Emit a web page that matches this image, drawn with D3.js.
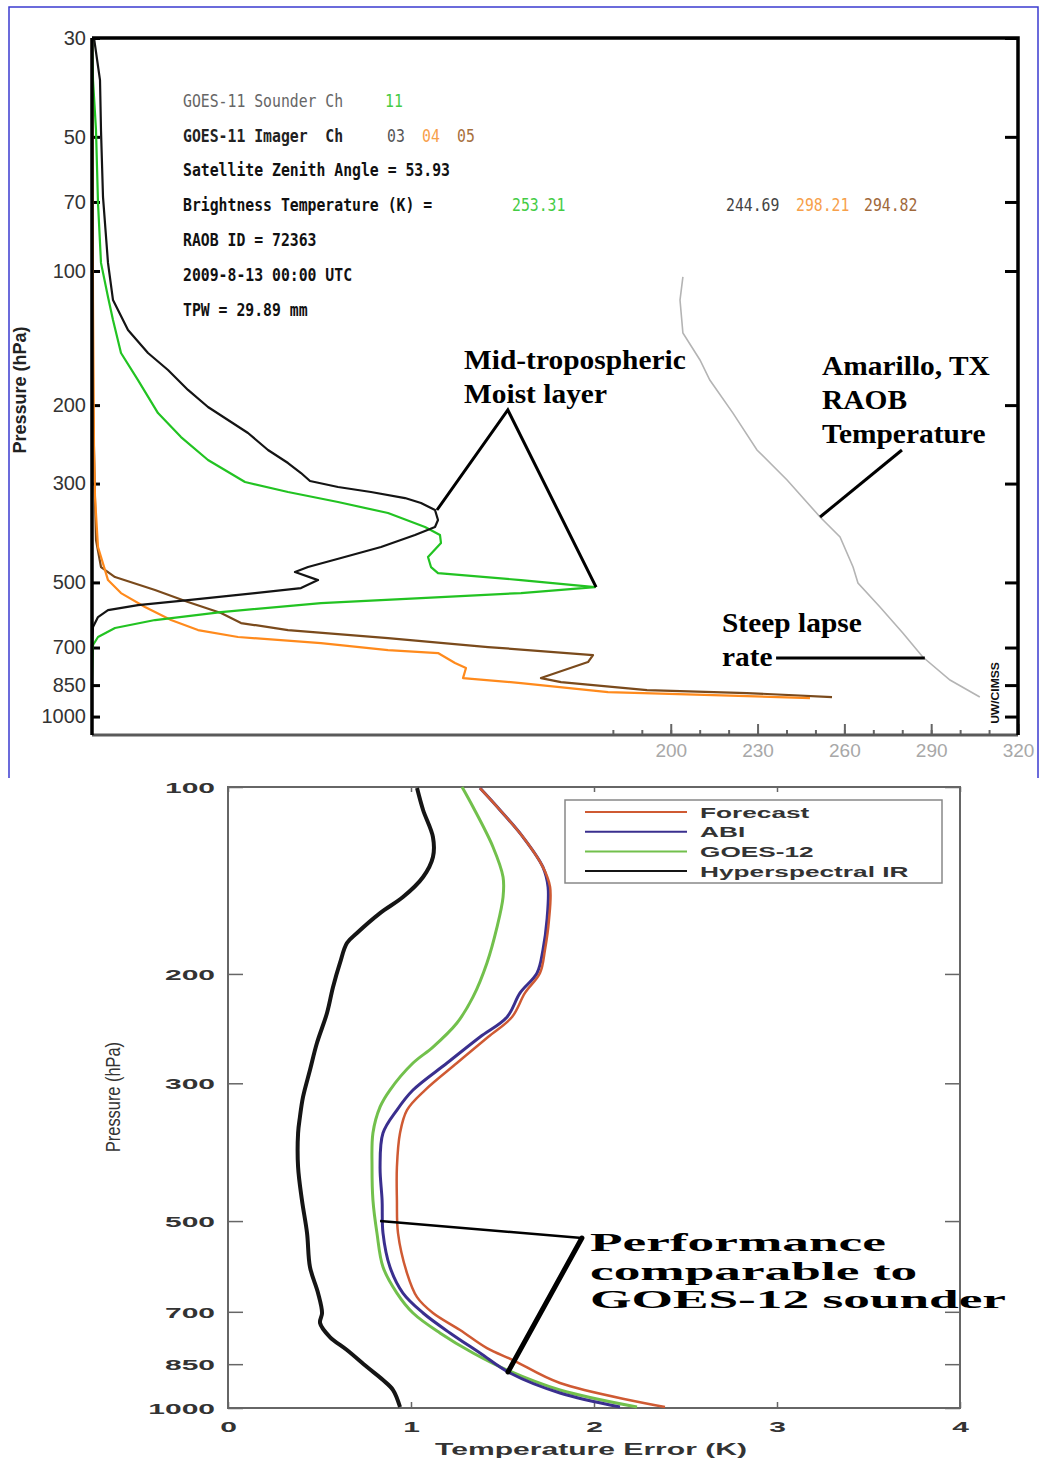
<!DOCTYPE html>
<html lang="en">
<head>
<meta charset="utf-8">
<title>GOES-11 weighting functions and temperature error profiles</title>
<script src="https://cdn.jsdelivr.net/npm/d3@7"></script>
<style>
  body { margin: 0; background: #fff; }
  svg { display: block; }
  text { white-space: pre; }
</style>
</head>
<body>
<script>
// ---------- data: top panel (weighting functions, pressure hPa / normalized weight) ----------
var topPressureTicks = [30, 50, 70, 100, 200, 300, 500, 700, 850, 1000];
var topTempTicks = [180, 190, 200, 210, 220, 230, 240, 250, 260, 270, 280, 290, 300, 310, 320];
var topTempLabels = [200, 230, 260, 290, 320];

var sounderCh11 = [[30,0],[37.3,.002],[48.3,.008],[70.4,.012],[95.9,.018],[114.4,.032],[128.8,.042],[152.8,.058],
  [175.7,.092],[208.4,.132],[235.9,.178],[265.6,.232],[297.6,.306],[313.4,.392],[330,.492],[349.3,.592],
  [375.5,.666],[391.4,.696],[407.9,.698],[438.5,.672],[461.8,.678],[476.4,.692],[494,.858],[512.2,1.006],
  [528.3,.858],[542,.658],[556.3,.458],[582.8,.258],[607.3,.126],[632.9,.046],[663,.012],[691,.002],[828,0]];

var imagerCh03 = [[30,.004],[37.3,.016],[48.3,.018],[68.2,.022],[95.9,.032],[116.2,.042],[135.6,.072],[152.8,.112],
  [166.8,.152],[184.9,.192],[202,.232],[216,.272],[231,.312],[252.2,.352],[269.8,.392],[284.1,.418],[296,.436],
  [305.4,.492],[313.4,.558],[323.3,.626],[331.7,.658],[343.9,.686],[362.2,.692],[375.5,.686],[391.4,.646],
  [416.4,.578],[440.8,.498],[461.8,.432],[473.9,.406],[494,.452],[514.8,.418],[528.3,.326],[547.7,.192],
  [562.1,.092],[576.8,.032],[598,.012],[629.7,.002],[691,0],[1000,0]];

var imagerCh04 = [[30,0],[116,.002],[252,.004],[321.6,.006],[416.4,.012],[469.1,.026],[494,.032],[528.3,.058],
  [567.9,.106],[607.3,.158],[639.5,.212],[663,.292],[683.9,.458],[709.1,.592],[720.2,.692],[758.4,.726],
  [778.3,.748],[819.6,.742],[841,.858],[881,1.032],[894.8,1.242],[908.8,1.436]];

var imagerCh05 = [[30,0],[194.8,.002],[326.7,.006],[401.6,.008],[461.8,.018],[486.3,.046],[520,.126],[553.4,.192],
  [585.8,.258],[616.8,.298],[639.5,.392],[666.5,.592],[698.2,.792],[727.7,1.002],[754.5,.992],[819.6,.898],
  [836.7,.938],[872,1.11],[885.7,1.31],[904.1,1.48]];

// Amarillo RAOB temperature (pressure hPa, K)
var raobTemp = [[103.1,204.2],[116.2,203.2],[137.8,204.2],[158.4,210.1],[175.7,213.5],[208.4,221.5],[252.2,229.8],
  [294.5,240.2],[356.6,251.6],[395.5,258.5],[461.8,263.0],[501.7,264.7],[567.9,272.3],[649.5,280.2],
  [735.2,287.1],[828.1,296.5],[904.1,306.8]];

// ---------- data: bottom panel (pressure hPa / temperature error K) ----------
var botPressureTicks = [100, 200, 300, 500, 700, 850, 1000];
var botErrTicks = [0, 1, 2, 3, 4];

var forecastErr = [[100.4,1.377],[108.9,1.486],[120.4,1.612],[134.6,1.721],[144.9,1.76],[163.7,1.754],[183,1.732],
  [199.3,1.705],[214.6,1.623],[234.6,1.552],[252.7,1.421],[278.3,1.251],[307.6,1.077],[331.3,.978],[360.8,.940],
  [409.3,.923],[462.6,.923],[522.9,.929],[606.3,.978],[663,1.033],[703.1,1.12],[748.8,1.268],[800.7,1.415],
  [837.1,1.557],[911.6,1.814],[996.3,2.388]];

var abiErr = [[100.4,1.377],[108.9,1.486],[120.4,1.612],[134.6,1.721],[144.9,1.749],[163.7,1.743],[183,1.721],
  [199.3,1.689],[214.6,1.596],[234.6,1.525],[252.7,1.377],[278.3,1.197],[307.6,1.011],[331.3,.923],[360.8,.847],
  [409.3,.831],[462.6,.842],[522.9,.847],[592.9,.885],[653,.956],[703.1,1.066],[757.1,1.213],[815.6,1.377],
  [878.4,1.541],[946,1.814],[996.3,2.142]];

var goes12Err = [[100,1.279],[107.7,1.339],[124.9,1.448],[139.6,1.503],[150.4,1.503],[168.1,1.47],[192,1.415],
  [217.8,1.339],[239.9,1.251],[262.3,1.12],[278.3,1.011],[307.6,.885],[327.5,.831],[360.8,.792],[409.3,.787],
  [462.6,.792],[522.9,.814],[592.9,.847],[653,.923],[703.1,1.011],[757.1,1.158],[815.6,1.339],[868.7,1.525],
  [935.5,1.814],[996.3,2.235]];

var hyperErr = [[100.4,1.033],[108.9,1.066],[120.4,1.12],[129.6,1.12],[139.6,1.066],[150.4,.956],[159.6,.831],
  [171.8,.705],[178.3,.650],[192,.612],[209.9,.574],[231.2,.541],[258.4,.486],[285.6,.448],[315.6,.41],[340,.393],
  [360.8,.383],[409.3,.383],[462.6,.404],[522.9,.432],[592.9,.448],[653,.492],[703.1,.514],[729.6,.503],
  [768.6,.557],[806.6,.65],[859.1,.760],[901.5,.847],[935.5,.902],[996.3,.94]];

var legendNames = ["Forecast", "ABI", "GOES-12", "Hyperspectral IR"];
var legendColors = ["#cf5a33", "#3a2f8e", "#72c04c", "#151515"];

//Width and height
var w = 1040;
var h = 1460;

var svg = d3.select("body")
            .append("svg")
            .attr("width", w)
            .attr("height", h);

svg.append("rect").attr("width", w).attr("height", h).attr("fill", "#fff");

//stretched text helper (the source image is squashed / stretched)
function sText(g, x, y, str, sx, size, opts) {
  opts = opts || {};
  return g.append("text")
    .attr("transform", "translate(" + x + "," + y + ")" + (opts.rot ? " rotate(" + opts.rot + ")" : "") + " scale(" + sx + ",1)")
    .attr("font-family", opts.family || "'Liberation Sans', Arial, sans-serif")
    .attr("font-size", size)
    .attr("font-weight", opts.weight || "normal")
    .attr("text-anchor", opts.anchor || "start")
    .attr("fill", opts.fill || "#000")
    .text(str);
}

// =================== TOP PANEL ===================
var topG = svg.append("g");

//thin blue frame round the top picture
topG.append("path")
   .attr("d", "M9,778 V7 H1038 V778")
   .attr("fill", "none")
   .attr("stroke", "#3b3bd0")
   .attr("stroke-width", 1.5);

var yTop = d3.scaleLog().domain([30, 1100]).range([38, 735]);
var xTemp = d3.scaleLinear().domain([0, 320]).range([92, 1018]);
var xW = d3.scaleLinear().domain([0, 1]).range([92, 592]);

//left axis
var leftAxis = topG.append("g")
   .attr("transform", "translate(92,0)")
   .call(d3.axisLeft(yTop).tickValues(topPressureTicks).tickFormat(d3.format("d")).tickSize(-8).tickPadding(6));
leftAxis.select(".domain").remove();
leftAxis.selectAll("line").attr("stroke", "#000").attr("stroke-width", 3);
leftAxis.selectAll("text")
   .attr("font-family", "'Liberation Sans', Arial, sans-serif")
   .attr("font-size", 20)
   .attr("fill", "#333");

//right axis
var rightAxis = topG.append("g")
   .attr("transform", "translate(1018,0)")
   .call(d3.axisRight(yTop).tickValues(topPressureTicks).tickFormat("").tickSize(-13));
rightAxis.select(".domain").remove();
rightAxis.selectAll("line").attr("stroke", "#000").attr("stroke-width", 3);

//bottom axis: minor then labelled ticks
var minorAxis = topG.append("g")
   .attr("transform", "translate(0,735)")
   .call(d3.axisBottom(xTemp).tickValues(topTempTicks).tickFormat("").tickSize(-5));
minorAxis.select(".domain").remove();
minorAxis.selectAll("line").attr("stroke", "#666").attr("stroke-width", 2);

var majorAxis = topG.append("g")
   .attr("transform", "translate(0,735)")
   .call(d3.axisBottom(xTemp).tickValues(topTempLabels).tickSize(-11).tickPadding(9));
majorAxis.select(".domain").remove();
majorAxis.selectAll("line").attr("stroke", "#666").attr("stroke-width", 2);
majorAxis.selectAll("text")
   .attr("font-family", "'Liberation Sans', Arial, sans-serif")
   .attr("font-size", 19)
   .attr("fill", "#a8a8a8");

//frame
topG.append("line").attr("x1", 92).attr("x2", 1018).attr("y1", 735).attr("y2", 735)
   .attr("stroke", "#5a5a5a").attr("stroke-width", 3);

//curves
var wLine = d3.line().x(function(d) { return xW(d[1]); }).y(function(d) { return yTop(d[0]); });
var tLine = d3.line().x(function(d) { return xTemp(d[1]); }).y(function(d) { return yTop(d[0]); });

topG.append("path").datum(raobTemp).attr("d", tLine)
   .attr("fill", "none").attr("stroke", "#b4b4b4").attr("stroke-width", 1.6);

var wSeries = [
  { data: imagerCh05, color: "#7a4a1c" },
  { data: imagerCh04, color: "#ff8a1c" },
  { data: sounderCh11, color: "#22c322" },
  { data: imagerCh03, color: "#141414" }
];
topG.selectAll("path.wf")
   .data(wSeries)
   .enter()
   .append("path")
   .attr("class", "wf")
   .attr("d", function(d) { return wLine(d.data); })
   .attr("fill", "none")
   .attr("stroke", function(d) { return d.color; })
   .attr("stroke-width", 2.2)
   .attr("stroke-linejoin", "round");

topG.append("path")
   .attr("d", "M92,38 H1018 V735 M92,38 V735")
   .attr("fill", "none")
   .attr("stroke", "#000")
   .attr("stroke-width", 3.5);

//axis title
sText(topG, 26, 390, "Pressure (hPa)", 1, 18, { rot: -90, anchor: "middle", weight: "bold", fill: "#222" });

//info block
var mono = "'DejaVu Sans Mono', 'Liberation Mono', monospace";
var infoRows = [
  { y: 107, txt: "GOES-11 Sounder Ch", fill: "#666", weight: "normal" },
  { y: 142, txt: "GOES-11 Imager  Ch", fill: "#222", weight: "bold" },
  { y: 176, txt: "Satellite Zenith Angle = 53.93", fill: "#111", weight: "bold" },
  { y: 211, txt: "Brightness Temperature (K) =", fill: "#111", weight: "bold" },
  { y: 246, txt: "RAOB ID = 72363", fill: "#111", weight: "bold" },
  { y: 281, txt: "2009-8-13 00:00 UTC", fill: "#111", weight: "bold" },
  { y: 316, txt: "TPW = 29.89 mm", fill: "#111", weight: "bold" }
];
infoRows.forEach(function(r) {
  sText(topG, 183, r.y, r.txt, 0.87, 17, { family: mono, fill: r.fill, weight: r.weight });
});
var infoValues = [
  { x: 385, y: 107, txt: "11", fill: "#44cc44" },
  { x: 387, y: 142, txt: "03", fill: "#555" },
  { x: 422, y: 142, txt: "04", fill: "#f7a04a" },
  { x: 457, y: 142, txt: "05", fill: "#a8703c" },
  { x: 512, y: 211, txt: "253.31", fill: "#44cc44" },
  { x: 726, y: 211, txt: "244.69", fill: "#444" },
  { x: 796, y: 211, txt: "298.21", fill: "#f7a04a" },
  { x: 864, y: 211, txt: "294.82", fill: "#a0683a" }
];
infoValues.forEach(function(v) {
  sText(topG, v.x, v.y, v.txt, 0.87, 17, { family: mono, fill: v.fill });
});

//annotations (anchored in temperature / pressure units)
var serif = "'Liberation Serif', 'Times New Roman', serif";
var topNotes = [
  [[119.2, 343.9], [143.7, 205.1], [174.2, 512.2]],
  [[279.9, 252.2], [251.6, 356.6]],
  [[236.4, 739], [287.8, 739]]
];
topG.selectAll("path.note")
   .data(topNotes)
   .enter()
   .append("path")
   .attr("class", "note")
   .attr("d", d3.line().x(function(d) { return xTemp(d[0]); }).y(function(d) { return yTop(d[1]); }))
   .attr("fill", "none")
   .attr("stroke", "#000")
   .attr("stroke-width", 3);

sText(topG, 464, 369, "Mid-tropospheric", 1.09, 27, { family: serif, weight: "bold" });
sText(topG, 464, 403, "Moist layer", 1.09, 27, { family: serif, weight: "bold" });
sText(topG, 822, 375, "Amarillo, TX", 1.09, 27, { family: serif, weight: "bold" });
sText(topG, 822, 409, "RAOB", 1.09, 27, { family: serif, weight: "bold" });
sText(topG, 822, 443, "Temperature", 1.09, 27, { family: serif, weight: "bold" });
sText(topG, 722, 632, "Steep lapse", 1.09, 27, { family: serif, weight: "bold" });
sText(topG, 722, 666, "rate", 1.09, 27, { family: serif, weight: "bold" });
sText(topG, 999, 693, "UW/CIMSS", 1.1, 11, { rot: -90, anchor: "middle", weight: "bold", fill: "#111" });

// =================== BOTTOM PANEL ===================
var botG = svg.append("g");

var yBot = d3.scaleLog().domain([100, 1000]).range([787, 1408]);
var xErr = d3.scaleLinear().domain([0, 4]).range([228, 960]);

var bLeft = botG.append("g")
   .attr("transform", "translate(228,0)")
   .call(d3.axisLeft(yBot).tickValues(botPressureTicks).tickFormat(d3.format("d")).tickSize(-15).tickPadding(13));
bLeft.select(".domain").remove();
bLeft.selectAll("line").attr("stroke", "#666").attr("stroke-width", 1.5);
bLeft.selectAll("text")
   .attr("x", -13 / 2)
   .attr("dy", "0.36em")
   .attr("transform", "scale(2,1)")
   .attr("font-family", "'Liberation Sans', Arial, sans-serif")
   .attr("font-weight", "bold")
   .attr("font-size", 15)
   .attr("fill", "#333");

var bRight = botG.append("g")
   .attr("transform", "translate(960,0)")
   .call(d3.axisRight(yBot).tickValues(botPressureTicks).tickFormat("").tickSize(-15));
bRight.select(".domain").remove();
bRight.selectAll("line").attr("stroke", "#666").attr("stroke-width", 1.5);

var bBottom = botG.append("g")
   .attr("transform", "translate(0,1408)")
   .call(d3.axisBottom(xErr).tickValues(botErrTicks).tickFormat(d3.format("d")).tickSize(-6).tickPadding(13));
bBottom.select(".domain").remove();
bBottom.selectAll("line").attr("stroke", "#666").attr("stroke-width", 1.5);
bBottom.selectAll("text")
   .attr("transform", "scale(2,1)")
   .attr("font-family", "'Liberation Sans', Arial, sans-serif")
   .attr("font-weight", "bold")
   .attr("font-size", 15)
   .attr("fill", "#333");

var bTop = botG.append("g")
   .attr("transform", "translate(0,787)")
   .call(d3.axisTop(xErr).tickValues(botErrTicks).tickFormat("").tickSize(-5));
bTop.select(".domain").remove();
bTop.selectAll("line").attr("stroke", "#666").attr("stroke-width", 1.5);

botG.append("rect")
   .attr("x", 228).attr("y", 787).attr("width", 732).attr("height", 621)
   .attr("fill", "none").attr("stroke", "#666").attr("stroke-width", 2);

var eLine = d3.line()
   .x(function(d) { return xErr(d[1]); })
   .y(function(d) { return yBot(d[0]); })
   .curve(d3.curveCatmullRom.alpha(0.5));
var eSeries = [
  { data: goes12Err, color: legendColors[2], width: 3 },
  { data: abiErr, color: legendColors[1], width: 3 },
  { data: forecastErr, color: legendColors[0], width: 2.5 },
  { data: hyperErr, color: legendColors[3], width: 4 }
];
botG.selectAll("path.err")
   .data(eSeries)
   .enter()
   .append("path")
   .attr("class", "err")
   .attr("d", function(d) { return eLine(d.data); })
   .attr("fill", "none")
   .attr("stroke", function(d) { return d.color; })
   .attr("stroke-width", function(d) { return d.width; })
   .attr("stroke-linejoin", "round");

//legend
var legend = botG.append("g");
legend.append("rect")
   .attr("x", 565).attr("y", 800).attr("width", 377).attr("height", 83)
   .attr("fill", "#fff").attr("stroke", "#888").attr("stroke-width", 1.5);
legendNames.forEach(function(name, i) {
  var ly = 812 + i * 19.7;
  legend.append("line")
     .attr("x1", 585).attr("x2", 687).attr("y1", ly).attr("y2", ly)
     .attr("stroke", legendColors[i]).attr("stroke-width", 2);
  sText(legend, 700, ly + 5.5, name, 1.75, 15, { weight: "bold", fill: "#333" });
});

//axis titles
sText(botG, 120, 1097, "Pressure (hPa)", 0.82, 20, { rot: -90, anchor: "middle", fill: "#333" });
sText(botG, 591, 1455, "Temperature Error (K)", 1.77, 17, { anchor: "middle", weight: "bold", fill: "#333" });

//annotation
var botNote = [[0.831, 500], [1.934, 532.4]];
var botNote2 = [[1.934, 532.4], [1.530, 875]];
var noteLine = d3.line().x(function(d) { return xErr(d[0]); }).y(function(d) { return yBot(d[1]); });
botG.append("path").datum(botNote).attr("d", noteLine)
   .attr("fill", "none").attr("stroke", "#000").attr("stroke-width", 2.5);
botG.append("path").datum(botNote2).attr("d", noteLine)
   .attr("fill", "none").attr("stroke", "#000").attr("stroke-width", 5).attr("stroke-linecap", "round");

sText(botG, 590, 1251, "Performance", 2.05, 26, { family: serif, weight: "bold" });
sText(botG, 590, 1280, "comparable to", 2.05, 26, { family: serif, weight: "bold" });
sText(botG, 590, 1308, "GOES-12 sounder", 2.05, 26, { family: serif, weight: "bold" });
</script>
</body>
</html>
